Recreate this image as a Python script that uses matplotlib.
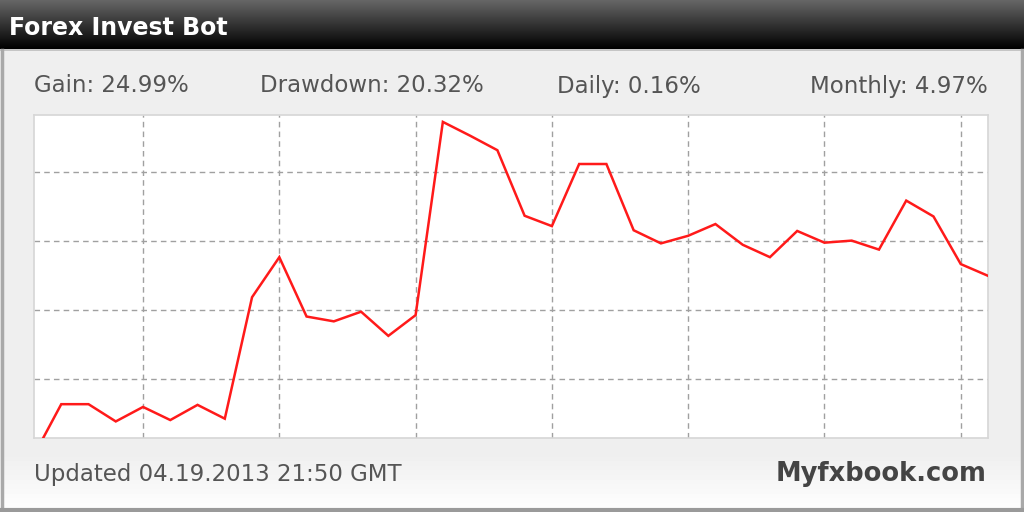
import numpy as np
import matplotlib
matplotlib.use("Agg")
import matplotlib.pyplot as plt

# widget texts
title = "Forex Invest Bot"
stats = ["Gain: 24.99%", "Drawdown: 20.32%", "Daily: 0.16%", "Monthly: 4.97%"]
updated = "Updated 04.19.2013 21:50 GMT"
brand = "Myfxbook.com"

# equity curve (chart units)
days = [0.35, 1, 2, 3, 4, 5, 6, 7, 8, 9, 10, 11, 12, 13, 14, 15, 16, 17,
        18, 19, 20, 21, 22, 23, 24, 25, 26, 27, 28, 29, 30, 31, 32, 33, 34, 35]
growth = [-8.5, -3.7, -3.7, -6.2, -4.1, -6.0, -3.8, -5.8, 11.8, 17.6,
          9.0, 8.3, 9.7, 6.2, 9.2, 37.2, 35.2, 33.1, 23.6, 22.1,
          31.1, 31.1, 21.5, 19.6, 20.7, 22.4, 19.4, 17.6, 21.4, 19.7,
          20.0, 18.7, 25.8, 23.5, 16.6, 14.9]

W, H = 1024, 512
fig = plt.figure(figsize=(W / 100, H / 100), dpi=100)

# background canvas in pixel coordinates
bg = fig.add_axes([0, 0, 1, 1])
bg.set_xlim(0, W)
bg.set_ylim(H, 0)
bg.axis("off")

# body gradient (light grey -> white near bottom)
body = np.ones((100, 1, 3)) * 0.94
fade = np.linspace(0, 1, 100)
body[:, 0, :] = (0.94 + 0.06 * np.clip((fade - 0.88) / 0.12, 0, 1))[:, None]
bg.imshow(body, extent=(0, W, H, 50), aspect="auto", zorder=0)

# header gradient (grey -> black)
head = np.linspace(0.40, 0.0, 50)[:, None, None] * np.ones((50, 1, 3))
bg.imshow(head, extent=(0, W, 49, 0), aspect="auto", zorder=1)
bg.plot([0, W], [50, 50], color="#bdbdbd", lw=1.2, zorder=2)

# outer border
bg.plot([1.5, 1.5], [50, H], color="#a9a9a9", lw=2.5, zorder=2)
bg.plot([W - 2, W - 2], [50, H], color="#a9a9a9", lw=2.5, zorder=2)
bg.plot([0, W], [H - 2.5, H - 2.5], color="#9a9a9a", lw=3, zorder=2)

bg.text(9, 28, title, color="white", fontsize=17, fontweight="bold",
        va="center", ha="left", zorder=3)

txt = dict(color="#555555", fontsize=16.5, va="center", zorder=3)
bg.text(34, 86, stats[0], ha="left", **txt)
bg.text(372, 86, stats[1], ha="center", **txt)
bg.text(629, 86, stats[2], ha="center", **txt)
bg.text(988, 86, stats[3], ha="right", **txt)

bg.text(34, 475, updated, ha="left", **txt)
bg.text(986, 474, brand, ha="right", color="#444444", fontsize=18.5,
        fontweight="bold", va="center", zorder=3)

# chart
ax = fig.add_axes([34 / W, 1 - 438 / H, 954 / W, 323 / H])
ax.set_facecolor("white")
ax.plot(days, growth, color="#ff1a1a", lw=1.8, solid_joinstyle="miter", zorder=3)
ax.set_xlim(0, 35)
ax.set_ylim(-8.6, 38.2)
ax.set_xticks(range(4, 35, 5))
ax.set_yticks([0, 10, 20, 30])
ax.grid(True, color="#a0a0a0", lw=1.0, linestyle=(0, (4, 3)))
ax.tick_params(left=False, bottom=False, labelleft=False, labelbottom=False)
for s in ax.spines.values():
    s.set_color("#d6d6d6")
    s.set_linewidth(1.2)

fig.savefig("out.png", dpi=100)
